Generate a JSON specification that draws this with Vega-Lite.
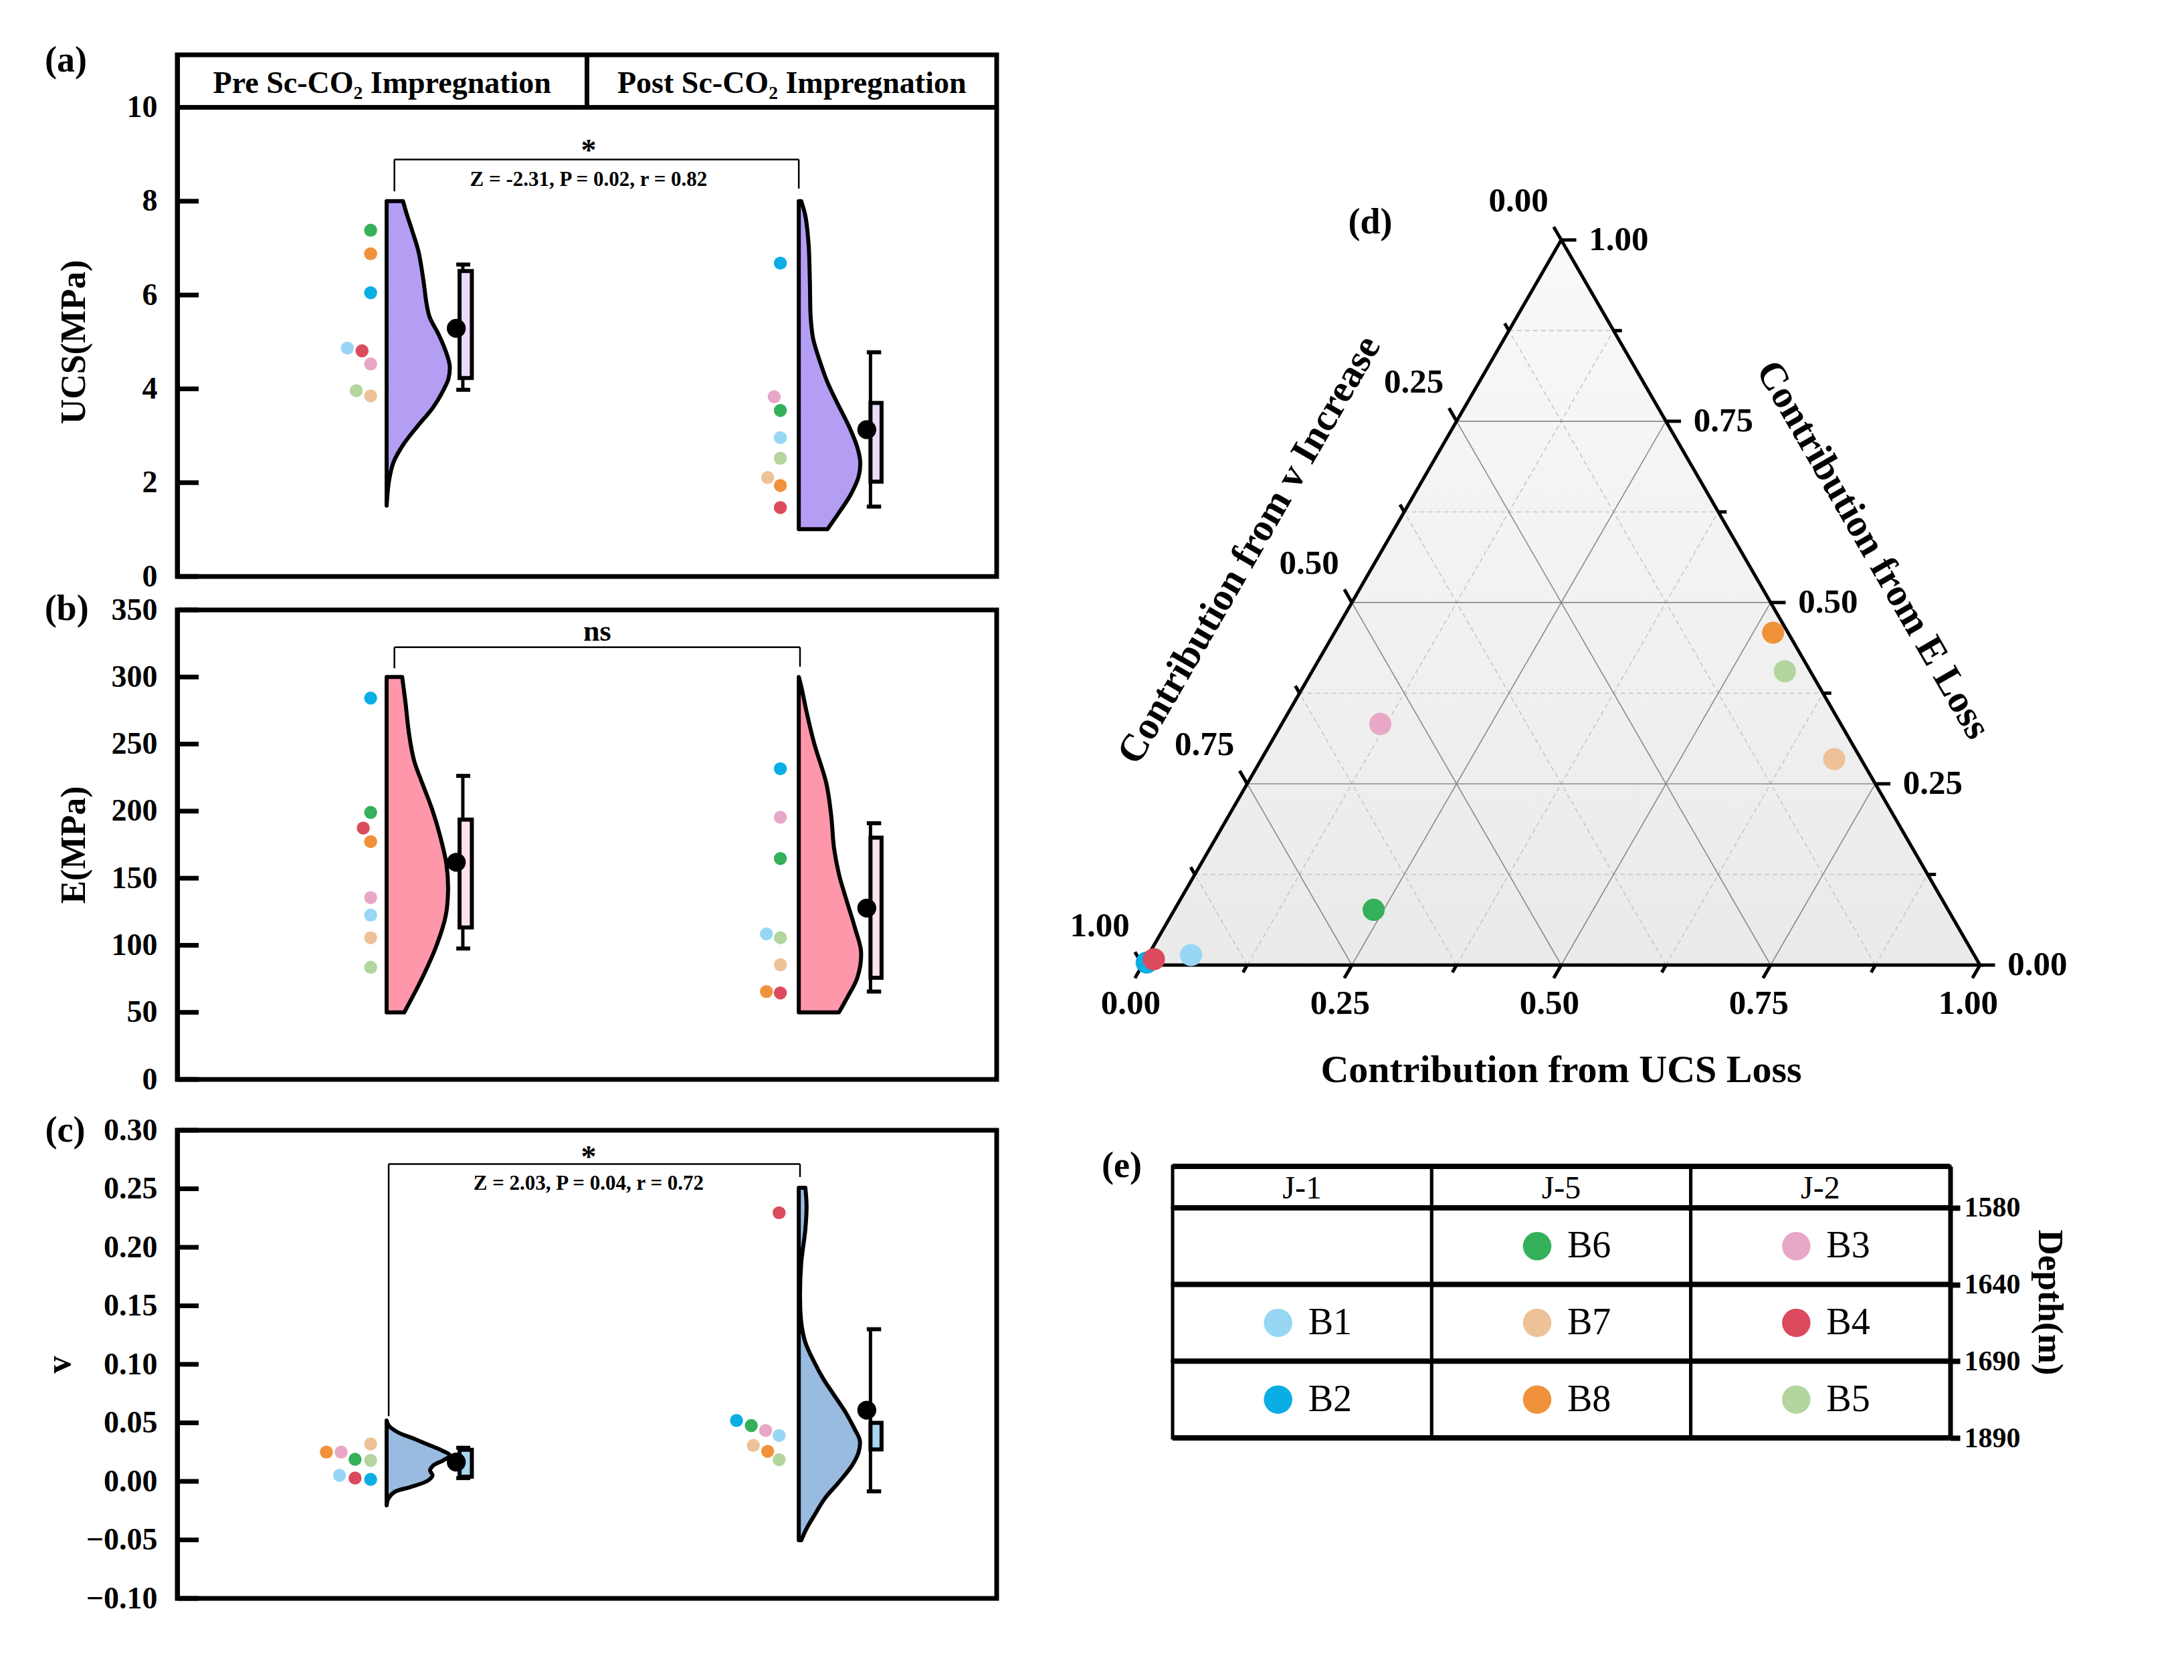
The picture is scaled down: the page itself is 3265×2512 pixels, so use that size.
{
  "$schema": "https://vega.github.io/schema/vega-lite/v6.json",
  "background": "white",
  "padding": {"left": 58, "top": 60, "right": 10, "bottom": 10},
  "config": {
    "font": "Liberation Serif",
    "view": {"stroke": "black", "strokeWidth": 7},
    "axis": {"labelFont": "Liberation Serif", "titleFont": "Liberation Serif", "labelColor": "black", "titleColor": "black", "domainColor": "black", "tickColor": "black", "grid": false, "labelFontWeight": "bold", "titleFontWeight": "bold", "labelFlush": false, "labelOverlap": false},
    "text": {"font": "Liberation Serif", "color": "black"},
    "title": {"font": "Liberation Serif", "color": "black"}
  },
  "datasets": {
    "ucs_v": [
      {"g": "Pre", "y": 8.00, "xl": 0.511, "xr": 0.551}, {"g": "Pre", "y": 7.70, "xl": 0.511, "xr": 0.561}, {"g": "Pre", "y": 7.38, "xl": 0.511, "xr": 0.573}, {"g": "Pre", "y": 6.92, "xl": 0.511, "xr": 0.589}, {"g": "Pre", "y": 6.30, "xl": 0.511, "xr": 0.601}, {"g": "Pre", "y": 5.84, "xl": 0.511, "xr": 0.608}, {"g": "Pre", "y": 5.53, "xl": 0.511, "xr": 0.616}, {"g": "Pre", "y": 5.14, "xl": 0.511, "xr": 0.639}, {"g": "Pre", "y": 4.76, "xl": 0.511, "xr": 0.657}, {"g": "Pre", "y": 4.49, "xl": 0.511, "xr": 0.665}, {"g": "Pre", "y": 4.22, "xl": 0.511, "xr": 0.662}, {"g": "Pre", "y": 3.98, "xl": 0.511, "xr": 0.650}, {"g": "Pre", "y": 3.60, "xl": 0.511, "xr": 0.624}, {"g": "Pre", "y": 3.21, "xl": 0.511, "xr": 0.587}, {"g": "Pre", "y": 2.83, "xl": 0.511, "xr": 0.553}, {"g": "Pre", "y": 2.44, "xl": 0.511, "xr": 0.528}, {"g": "Pre", "y": 2.05, "xl": 0.511, "xr": 0.517}, {"g": "Pre", "y": 1.51, "xl": 0.511, "xr": 0.511},
      {"g": "Post", "y": 8.00, "xl": 1.517, "xr": 1.523}, {"g": "Post", "y": 7.69, "xl": 1.517, "xr": 1.533}, {"g": "Post", "y": 7.07, "xl": 1.517, "xr": 1.541}, {"g": "Post", "y": 6.30, "xl": 1.517, "xr": 1.544}, {"g": "Post", "y": 5.53, "xl": 1.517, "xr": 1.546}, {"g": "Post", "y": 5.07, "xl": 1.517, "xr": 1.552}, {"g": "Post", "y": 4.60, "xl": 1.517, "xr": 1.568}, {"g": "Post", "y": 4.14, "xl": 1.517, "xr": 1.587}, {"g": "Post", "y": 3.68, "xl": 1.517, "xr": 1.612}, {"g": "Post", "y": 3.21, "xl": 1.517, "xr": 1.639}, {"g": "Post", "y": 2.75, "xl": 1.517, "xr": 1.660}, {"g": "Post", "y": 2.44, "xl": 1.517, "xr": 1.667}, {"g": "Post", "y": 2.13, "xl": 1.517, "xr": 1.663}, {"g": "Post", "y": 1.75, "xl": 1.517, "xr": 1.644}, {"g": "Post", "y": 1.36, "xl": 1.517, "xr": 1.615}, {"g": "Post", "y": 1.01, "xl": 1.517, "xr": 1.587}
    ],
    "e_v": [
      {"g": "Pre", "y": 300, "xl": 0.511, "xr": 0.549}, {"g": "Pre", "y": 281, "xl": 0.511, "xr": 0.557}, {"g": "Pre", "y": 257, "xl": 0.511, "xr": 0.566}, {"g": "Pre", "y": 237.7, "xl": 0.511, "xr": 0.578}, {"g": "Pre", "y": 220.8, "xl": 0.511, "xr": 0.598}, {"g": "Pre", "y": 201.4, "xl": 0.511, "xr": 0.622}, {"g": "Pre", "y": 182.1, "xl": 0.511, "xr": 0.641}, {"g": "Pre", "y": 160.4, "xl": 0.511, "xr": 0.657}, {"g": "Pre", "y": 141.1, "xl": 0.511, "xr": 0.661}, {"g": "Pre", "y": 121.7, "xl": 0.511, "xr": 0.655}, {"g": "Pre", "y": 100, "xl": 0.511, "xr": 0.633}, {"g": "Pre", "y": 75.8, "xl": 0.511, "xr": 0.598}, {"g": "Pre", "y": 50, "xl": 0.511, "xr": 0.554},
      {"g": "Post", "y": 300, "xl": 1.517, "xr": 1.517}, {"g": "Post", "y": 293, "xl": 1.517, "xr": 1.523}, {"g": "Post", "y": 274, "xl": 1.517, "xr": 1.536}, {"g": "Post", "y": 250, "xl": 1.517, "xr": 1.555}, {"g": "Post", "y": 221, "xl": 1.517, "xr": 1.584}, {"g": "Post", "y": 197, "xl": 1.517, "xr": 1.596}, {"g": "Post", "y": 172.5, "xl": 1.517, "xr": 1.603}, {"g": "Post", "y": 153, "xl": 1.517, "xr": 1.615}, {"g": "Post", "y": 136, "xl": 1.517, "xr": 1.631}, {"g": "Post", "y": 112, "xl": 1.517, "xr": 1.655}, {"g": "Post", "y": 95, "xl": 1.517, "xr": 1.669}, {"g": "Post", "y": 76, "xl": 1.517, "xr": 1.660}, {"g": "Post", "y": 61.4, "xl": 1.517, "xr": 1.636}, {"g": "Post", "y": 50, "xl": 1.517, "xr": 1.615}
    ],
    "nu_v": [
      {"g": "Pre", "y": 0.052, "xl": 0.511, "xr": 0.511}, {"g": "Pre", "y": 0.0477, "xl": 0.511, "xr": 0.516}, {"g": "Pre", "y": 0.042, "xl": 0.511, "xr": 0.538}, {"g": "Pre", "y": 0.0364, "xl": 0.511, "xr": 0.578}, {"g": "Pre", "y": 0.0307, "xl": 0.511, "xr": 0.617}, {"g": "Pre", "y": 0.0264, "xl": 0.511, "xr": 0.646}, {"g": "Pre", "y": 0.0222, "xl": 0.511, "xr": 0.665}, {"g": "Pre", "y": 0.0179, "xl": 0.511, "xr": 0.649}, {"g": "Pre", "y": 0.0136, "xl": 0.511, "xr": 0.625}, {"g": "Pre", "y": 0.0094, "xl": 0.511, "xr": 0.617}, {"g": "Pre", "y": 0.0051, "xl": 0.511, "xr": 0.623}, {"g": "Pre", "y": 0.0005, "xl": 0.511, "xr": 0.611}, {"g": "Pre", "y": -0.0048, "xl": 0.511, "xr": 0.570}, {"g": "Pre", "y": -0.0091, "xl": 0.511, "xr": 0.530}, {"g": "Pre", "y": -0.0148, "xl": 0.511, "xr": 0.515}, {"g": "Pre", "y": -0.0205, "xl": 0.511, "xr": 0.511},
      {"g": "Post", "y": 0.2509, "xl": 1.517, "xr": 1.533}, {"g": "Post", "y": 0.2352, "xl": 1.517, "xr": 1.536}, {"g": "Post", "y": 0.2153, "xl": 1.517, "xr": 1.533}, {"g": "Post", "y": 0.1869, "xl": 1.517, "xr": 1.523}, {"g": "Post", "y": 0.1585, "xl": 1.517, "xr": 1.520}, {"g": "Post", "y": 0.1358, "xl": 1.517, "xr": 1.523}, {"g": "Post", "y": 0.1188, "xl": 1.517, "xr": 1.533}, {"g": "Post", "y": 0.1017, "xl": 1.517, "xr": 1.555}, {"g": "Post", "y": 0.0875, "xl": 1.517, "xr": 1.577}, {"g": "Post", "y": 0.0733, "xl": 1.517, "xr": 1.604}, {"g": "Post", "y": 0.0591, "xl": 1.517, "xr": 1.631}, {"g": "Post", "y": 0.0449, "xl": 1.517, "xr": 1.653}, {"g": "Post", "y": 0.0349, "xl": 1.517, "xr": 1.666}, {"g": "Post", "y": 0.0250, "xl": 1.517, "xr": 1.663}, {"g": "Post", "y": 0.0136, "xl": 1.517, "xr": 1.647}, {"g": "Post", "y": -0.0006, "xl": 1.517, "xr": 1.615}, {"g": "Post", "y": -0.0148, "xl": 1.517, "xr": 1.580}, {"g": "Post", "y": -0.0290, "xl": 1.517, "xr": 1.555}, {"g": "Post", "y": -0.0403, "xl": 1.517, "xr": 1.536}, {"g": "Post", "y": -0.0503, "xl": 1.517, "xr": 1.523}
    ],
    "ucs_p": [
      {"s": "B6", "g": "Pre", "x": 0.472, "v": 7.38}, {"s": "B8", "g": "Pre", "x": 0.472, "v": 6.88}, {"s": "B2", "g": "Pre", "x": 0.472, "v": 6.05}, {"s": "B1", "g": "Pre", "x": 0.415, "v": 4.87}, {"s": "B4", "g": "Pre", "x": 0.451, "v": 4.81}, {"s": "B3", "g": "Pre", "x": 0.472, "v": 4.53}, {"s": "B5", "g": "Pre", "x": 0.437, "v": 3.96}, {"s": "B7", "g": "Pre", "x": 0.472, "v": 3.85},
      {"s": "B2", "g": "Post", "x": 1.472, "v": 6.68}, {"s": "B3", "g": "Post", "x": 1.457, "v": 3.83}, {"s": "B6", "g": "Post", "x": 1.472, "v": 3.54}, {"s": "B1", "g": "Post", "x": 1.472, "v": 2.96}, {"s": "B5", "g": "Post", "x": 1.472, "v": 2.52}, {"s": "B7", "g": "Post", "x": 1.441, "v": 2.11}, {"s": "B8", "g": "Post", "x": 1.472, "v": 1.94}, {"s": "B4", "g": "Post", "x": 1.472, "v": 1.47}
    ],
    "e_p": [
      {"s": "B2", "g": "Pre", "x": 0.472, "v": 284.3}, {"s": "B6", "g": "Pre", "x": 0.472, "v": 199.0}, {"s": "B4", "g": "Pre", "x": 0.454, "v": 187.4}, {"s": "B8", "g": "Pre", "x": 0.472, "v": 177.3}, {"s": "B3", "g": "Pre", "x": 0.472, "v": 135.5}, {"s": "B1", "g": "Pre", "x": 0.472, "v": 122.5}, {"s": "B7", "g": "Pre", "x": 0.472, "v": 105.6}, {"s": "B5", "g": "Pre", "x": 0.472, "v": 83.6},
      {"s": "B2", "g": "Post", "x": 1.472, "v": 231.6}, {"s": "B3", "g": "Post", "x": 1.472, "v": 195.4}, {"s": "B6", "g": "Post", "x": 1.472, "v": 164.7}, {"s": "B1", "g": "Post", "x": 1.438, "v": 108.5}, {"s": "B5", "g": "Post", "x": 1.472, "v": 105.6}, {"s": "B7", "g": "Post", "x": 1.472, "v": 85.5}, {"s": "B8", "g": "Post", "x": 1.438, "v": 65.5}, {"s": "B4", "g": "Post", "x": 1.472, "v": 64.5}
    ],
    "nu_p": [
      {"s": "B8", "g": "Pre", "x": 0.364, "v": 0.025}, {"s": "B3", "g": "Pre", "x": 0.400, "v": 0.025}, {"s": "B7", "g": "Pre", "x": 0.472, "v": 0.032}, {"s": "B6", "g": "Pre", "x": 0.434, "v": 0.0188}, {"s": "B5", "g": "Pre", "x": 0.472, "v": 0.0179}, {"s": "B1", "g": "Pre", "x": 0.396, "v": 0.0051}, {"s": "B4", "g": "Pre", "x": 0.434, "v": 0.0028}, {"s": "B2", "g": "Pre", "x": 0.472, "v": 0.0017},
      {"s": "B4", "g": "Post", "x": 1.469, "v": 0.2295}, {"s": "B2", "g": "Post", "x": 1.365, "v": 0.052}, {"s": "B6", "g": "Post", "x": 1.401, "v": 0.0477}, {"s": "B3", "g": "Post", "x": 1.436, "v": 0.0435}, {"s": "B1", "g": "Post", "x": 1.469, "v": 0.0392}, {"s": "B7", "g": "Post", "x": 1.406, "v": 0.0307}, {"s": "B8", "g": "Post", "x": 1.441, "v": 0.0256}, {"s": "B5", "g": "Post", "x": 1.469, "v": 0.0185}
    ],
    "ucs_b": [
      {"g": "Pre", "lo": 3.98, "q1": 4.23, "q3": 6.51, "hi": 6.65, "mean": 5.29, "x0": 0.689, "x1": 0.719, "xw": 0.697, "xc0": 0.681, "xc1": 0.715, "xm": 0.681},
      {"g": "Post", "lo": 1.49, "q1": 2.02, "q3": 3.70, "hi": 4.78, "mean": 3.13, "x0": 1.692, "x1": 1.719, "xw": 1.692, "xc0": 1.683, "xc1": 1.718, "xm": 1.683}
    ],
    "e_b": [
      {"g": "Pre", "lo": 97.6, "q1": 113.3, "q3": 193.7, "hi": 226.3, "mean": 161.9, "x0": 0.689, "x1": 0.719, "xw": 0.697, "xc0": 0.681, "xc1": 0.715, "xm": 0.681},
      {"g": "Post", "lo": 65.5, "q1": 75.8, "q3": 180.2, "hi": 191.0, "mean": 127.7, "x0": 1.692, "x1": 1.719, "xw": 1.692, "xc0": 1.683, "xc1": 1.718, "xm": 1.683}
    ],
    "nu_b": [
      {"g": "Pre", "lo": 0.0028, "q1": 0.004, "q3": 0.027, "hi": 0.0287, "mean": 0.0165, "x0": 0.689, "x1": 0.719, "xw": 0.697, "xc0": 0.681, "xc1": 0.715, "xm": 0.681},
      {"g": "Post", "lo": -0.0085, "q1": 0.0273, "q3": 0.050, "hi": 0.130, "mean": 0.0608, "x0": 1.692, "x1": 1.719, "xw": 1.692, "xc0": 1.683, "xc1": 1.718, "xm": 1.683}
    ],
    "t_major": [
      {"x": 0.125, "y": 0.2165, "x2": 0.875, "y2": 0.2165}, {"x": 0.25, "y": 0.433, "x2": 0.75, "y2": 0.433}, {"x": 0.375, "y": 0.6495, "x2": 0.625, "y2": 0.6495},
      {"x": 0.25, "y": 0, "x2": 0.625, "y2": 0.6495}, {"x": 0.5, "y": 0, "x2": 0.75, "y2": 0.433}, {"x": 0.75, "y": 0, "x2": 0.875, "y2": 0.2165},
      {"x": 0.75, "y": 0, "x2": 0.375, "y2": 0.6495}, {"x": 0.5, "y": 0, "x2": 0.25, "y2": 0.433}, {"x": 0.25, "y": 0, "x2": 0.125, "y2": 0.2165}
    ],
    "t_minor": [
      {"x": 0.0625, "y": 0.10825, "x2": 0.9375, "y2": 0.10825}, {"x": 0.1875, "y": 0.32475, "x2": 0.8125, "y2": 0.32475}, {"x": 0.3125, "y": 0.54125, "x2": 0.6875, "y2": 0.54125}, {"x": 0.4375, "y": 0.75775, "x2": 0.5625, "y2": 0.75775},
      {"x": 0.125, "y": 0, "x2": 0.5625, "y2": 0.75775}, {"x": 0.375, "y": 0, "x2": 0.6875, "y2": 0.54125}, {"x": 0.625, "y": 0, "x2": 0.8125, "y2": 0.32475}, {"x": 0.875, "y": 0, "x2": 0.9375, "y2": 0.10825},
      {"x": 0.875, "y": 0, "x2": 0.4375, "y2": 0.75775}, {"x": 0.625, "y": 0, "x2": 0.3125, "y2": 0.54125}, {"x": 0.375, "y": 0, "x2": 0.1875, "y2": 0.32475}, {"x": 0.125, "y": 0, "x2": 0.0625, "y2": 0.10825}
    ],
    "t_ticks": [
      {"x": 1, "y": 0, "x2": 1.018, "y2": 0}, {"x": 0.9375, "y": 0.10825, "x2": 0.9475, "y2": 0.10825}, {"x": 0.875, "y": 0.2165, "x2": 0.893, "y2": 0.2165}, {"x": 0.8125, "y": 0.32475, "x2": 0.8225, "y2": 0.32475}, {"x": 0.75, "y": 0.433, "x2": 0.768, "y2": 0.433}, {"x": 0.6875, "y": 0.54125, "x2": 0.6975, "y2": 0.54125}, {"x": 0.625, "y": 0.6495, "x2": 0.643, "y2": 0.6495}, {"x": 0.5625, "y": 0.75775, "x2": 0.5725, "y2": 0.75775}, {"x": 0.5, "y": 0.866, "x2": 0.518, "y2": 0.866},
      {"x": 0, "y": 0, "x2": -0.009, "y2": -0.0156}, {"x": 0.125, "y": 0, "x2": 0.12, "y2": -0.0087}, {"x": 0.25, "y": 0, "x2": 0.241, "y2": -0.0156}, {"x": 0.375, "y": 0, "x2": 0.37, "y2": -0.0087}, {"x": 0.5, "y": 0, "x2": 0.491, "y2": -0.0156}, {"x": 0.625, "y": 0, "x2": 0.62, "y2": -0.0087}, {"x": 0.75, "y": 0, "x2": 0.741, "y2": -0.0156}, {"x": 0.875, "y": 0, "x2": 0.87, "y2": -0.0087}, {"x": 1, "y": 0, "x2": 0.991, "y2": -0.0156},
      {"x": 0.5, "y": 0.866, "x2": 0.491, "y2": 0.8816}, {"x": 0.4375, "y": 0.75775, "x2": 0.4325, "y2": 0.76645}, {"x": 0.375, "y": 0.6495, "x2": 0.366, "y2": 0.6651}, {"x": 0.3125, "y": 0.54125, "x2": 0.3075, "y2": 0.54995}, {"x": 0.25, "y": 0.433, "x2": 0.241, "y2": 0.4486}, {"x": 0.1875, "y": 0.32475, "x2": 0.1825, "y2": 0.33345}, {"x": 0.125, "y": 0.2165, "x2": 0.116, "y2": 0.2321}, {"x": 0.0625, "y": 0.10825, "x2": 0.0575, "y2": 0.11695}, {"x": 0, "y": 0, "x2": -0.009, "y2": 0.0156}
    ],
    "t_pts": [
      {"s": "B1", "ucs": 0.051, "e": 0.014, "v": 0.935, "x": 0.058, "y": 0.012},
      {"s": "B2", "ucs": 0.003, "e": 0.003, "v": 0.994, "x": 0.005, "y": 0.003},
      {"s": "B3", "ucs": 0.118, "e": 0.332, "v": 0.550, "x": 0.284, "y": 0.288},
      {"s": "B4", "ucs": 0.010, "e": 0.008, "v": 0.982, "x": 0.0136, "y": 0.007},
      {"s": "B5", "ucs": 0.564, "e": 0.405, "v": 0.031, "x": 0.767, "y": 0.351},
      {"s": "B6", "ucs": 0.238, "e": 0.077, "v": 0.685, "x": 0.276, "y": 0.066},
      {"s": "B7", "ucs": 0.684, "e": 0.284, "v": 0.032, "x": 0.826, "y": 0.246},
      {"s": "B8", "ucs": 0.524, "e": 0.458, "v": 0.018, "x": 0.753, "y": 0.397}
    ],
    "tbl_cells": [
      {"well": "J-1", "r0": -0.54, "r1": 0}, {"well": "J-5", "r0": -0.54, "r1": 0}, {"well": "J-2", "r0": -0.54, "r1": 0},
      {"well": "J-1", "r0": 0, "r1": 1}, {"well": "J-5", "r0": 0, "r1": 1}, {"well": "J-2", "r0": 0, "r1": 1},
      {"well": "J-1", "r0": 1, "r1": 2}, {"well": "J-5", "r0": 1, "r1": 2}, {"well": "J-2", "r0": 1, "r1": 2},
      {"well": "J-1", "r0": 2, "r1": 3}, {"well": "J-5", "r0": 2, "r1": 3}, {"well": "J-2", "r0": 2, "r1": 3}
    ],
    "tbl_samples": [
      {"s": "B6", "well": "J-5", "depth": "1580–1640", "rowc": 0.5}, {"s": "B3", "well": "J-2", "depth": "1580–1640", "rowc": 0.5},
      {"s": "B1", "well": "J-1", "depth": "1640–1690", "rowc": 1.5}, {"s": "B7", "well": "J-5", "depth": "1640–1690", "rowc": 1.5}, {"s": "B4", "well": "J-2", "depth": "1640–1690", "rowc": 1.5},
      {"s": "B2", "well": "J-1", "depth": "1690–1890", "rowc": 2.5}, {"s": "B8", "well": "J-5", "depth": "1690–1890", "rowc": 2.5}, {"s": "B5", "well": "J-2", "depth": "1690–1890", "rowc": 2.5}
    ]
  },
  "spacing": 102,
  "hconcat": [
    {
      "spacing": 19,
      "vconcat": [
        {
          "spacing": 50,
          "bounds": "flush",
          "vconcat": [
            {
              "width": 1225, "height": 780,
              "layer": [
                {"data": {"values": [{"x": 0, "x2": 2, "y": 10, "y2": 10}, {"x": 1, "x2": 1, "y": 10, "y2": 11.12}]},
                 "mark": {"type": "rule", "color": "black", "strokeWidth": 7},
                 "encoding": {"x": {"field": "x", "type": "quantitative", "scale": {"domain": [0, 2], "nice": false, "zero": false}, "axis": null}, "x2": {"field": "x2"},
                   "y": {"field": "y", "type": "quantitative", "scale": {"domain": [0, 11.12], "nice": false, "zero": false},
                     "axis": {"title": "UCS(MPa)", "values": [0, 2, 4, 6, 8, 10], "format": "d", "tickSize": -32, "tickOpacity": 0, "tickWidth": 7, "domainWidth": 7, "labelFontSize": 46, "labelPadding": 62, "titleFontSize": 52, "titleX": -155, "titleY": 429, "titleBaseline": "middle"}},
                   "y2": {"field": "y2"}}},
                {"data": {"values": [{"y": 0}, {"y": 2}, {"y": 4}, {"y": 6}, {"y": 8}, {"y": 10}]},
                 "mark": {"type": "rule", "color": "black", "strokeWidth": 7},
                 "encoding": {"x": {"datum": 0, "type": "quantitative", "scale": {"domain": [0, 2], "nice": false, "zero": false}, "axis": null}, "x2": {"datum": 0.0522}, "y": {"field": "y", "type": "quantitative", "scale": {"domain": [0, 11.12], "nice": false, "zero": false}}}},
                {"data": {"values": [{"x": 0.5, "y": 10.314, "t": "Pre Sc-CO₂ Impregnation"}, {"x": 1.5, "y": 10.314, "t": "Post Sc-CO₂ Impregnation"}]},
                 "mark": {"type": "text", "fontSize": 46, "fontWeight": "bold", "baseline": "alphabetic", "align": "center"},
                 "encoding": {"x": {"field": "x", "type": "quantitative", "scale": {"domain": [0, 2], "nice": false, "zero": false}, "axis": null}, "y": {"field": "y", "type": "quantitative", "scale": {"domain": [0, 11.12], "nice": false, "zero": false}}, "text": {"field": "t"}}},
                {"data": {"values": [{"x": 0.530, "y": 8.89, "x2": 1.517, "y2": 8.89}, {"x": 0.530, "y": 8.21, "x2": 0.530, "y2": 8.89}, {"x": 1.517, "y": 8.27, "x2": 1.517, "y2": 8.89}]},
                 "mark": {"type": "rule", "color": "black", "strokeWidth": 2.5},
                 "encoding": {"x": {"field": "x", "type": "quantitative", "scale": {"domain": [0, 2], "nice": false, "zero": false}, "axis": null}, "x2": {"field": "x2"}, "y": {"field": "y", "type": "quantitative", "scale": {"domain": [0, 11.12], "nice": false, "zero": false}}, "y2": {"field": "y2"}}},
                {"data": {"name": "ucs_v"},
                 "mark": {"type": "area", "orient": "horizontal", "interpolate": "catmull-rom", "fill": "#B49EF4", "fillOpacity": 1, "stroke": "black", "strokeWidth": 6, "strokeJoin": "round"},
                 "encoding": {"detail": {"field": "g"}, "y": {"field": "y", "type": "quantitative", "scale": {"domain": [0, 11.12], "nice": false, "zero": false}}, "x": {"field": "xr", "type": "quantitative", "stack": null, "scale": {"domain": [0, 2], "nice": false, "zero": false}, "axis": null}, "x2": {"field": "xl"}}},
                {"data": {"name": "ucs_p"},
                 "mark": {"type": "circle", "size": 380, "opacity": 1},
                 "encoding": {"x": {"field": "x", "type": "quantitative", "scale": {"domain": [0, 2], "nice": false, "zero": false}, "axis": null}, "y": {"field": "v", "type": "quantitative", "scale": {"domain": [0, 11.12], "nice": false, "zero": false}},
                   "color": {"field": "s", "type": "nominal", "scale": {"domain": ["B1", "B2", "B3", "B4", "B5", "B6", "B7", "B8"], "range": ["#97D7F4", "#0BAEE4", "#E8A7C6", "#DB4A5D", "#B2D69E", "#34B15A", "#EEC298", "#F0923B"]}, "legend": null}}},
                {"data": {"name": "ucs_b"}, "mark": {"type": "rule", "color": "black", "strokeWidth": 5},
                 "encoding": {"x": {"field": "xw", "type": "quantitative", "scale": {"domain": [0, 2], "nice": false, "zero": false}, "axis": null}, "y": {"field": "lo", "type": "quantitative", "scale": {"domain": [0, 11.12], "nice": false, "zero": false}}, "y2": {"field": "hi"}}},
                {"data": {"name": "ucs_b"}, "mark": {"type": "rect", "fill": "#EADCF9", "stroke": "black", "strokeWidth": 6},
                 "encoding": {"x": {"field": "x0", "type": "quantitative", "scale": {"domain": [0, 2], "nice": false, "zero": false}, "axis": null}, "x2": {"field": "x1"}, "y": {"field": "q1", "type": "quantitative", "scale": {"domain": [0, 11.12], "nice": false, "zero": false}}, "y2": {"field": "q3"}}},
                {"data": {"name": "ucs_b"}, "mark": {"type": "rule", "color": "black", "strokeWidth": 6},
                 "encoding": {"x": {"field": "xc0", "type": "quantitative", "scale": {"domain": [0, 2], "nice": false, "zero": false}, "axis": null}, "x2": {"field": "xc1"}, "y": {"field": "lo", "type": "quantitative", "scale": {"domain": [0, 11.12], "nice": false, "zero": false}}}},
                {"data": {"name": "ucs_b"}, "mark": {"type": "rule", "color": "black", "strokeWidth": 6},
                 "encoding": {"x": {"field": "xc0", "type": "quantitative", "scale": {"domain": [0, 2], "nice": false, "zero": false}, "axis": null}, "x2": {"field": "xc1"}, "y": {"field": "hi", "type": "quantitative", "scale": {"domain": [0, 11.12], "nice": false, "zero": false}}}},
                {"data": {"name": "ucs_b"}, "mark": {"type": "circle", "size": 800, "color": "black", "opacity": 1},
                 "encoding": {"x": {"field": "xm", "type": "quantitative", "scale": {"domain": [0, 2], "nice": false, "zero": false}, "axis": null}, "y": {"field": "mean", "type": "quantitative", "scale": {"domain": [0, 11.12], "nice": false, "zero": false}}}},
                {"data": {"values": [{"x": 1.004, "y": 8.87, "t": "*"}]},
                 "mark": {"type": "text", "fontSize": 46, "fontWeight": "bold", "baseline": "alphabetic", "align": "center"},
                 "encoding": {"x": {"field": "x", "type": "quantitative", "scale": {"domain": [0, 2], "nice": false, "zero": false}, "axis": null}, "y": {"field": "y", "type": "quantitative", "scale": {"domain": [0, 11.12], "nice": false, "zero": false}}, "text": {"field": "t"}}},
                {"data": {"values": [{"x": 1.004, "y": 8.32, "t": "Z = -2.31, P = 0.02, r = 0.82"}]},
                 "mark": {"type": "text", "fontSize": 31, "fontWeight": "bold", "baseline": "alphabetic", "align": "center"},
                 "encoding": {"x": {"field": "x", "type": "quantitative", "scale": {"domain": [0, 2], "nice": false, "zero": false}, "axis": null}, "y": {"field": "y", "type": "quantitative", "scale": {"domain": [0, 11.12], "nice": false, "zero": false}}, "text": {"field": "t"}}},
                {"data": {"values": [{"x": -0.272, "y": 10.757, "t": "(a)"}]},
                 "mark": {"type": "text", "fontSize": 54, "fontWeight": "bold", "baseline": "alphabetic", "align": "center"},
                 "encoding": {"x": {"field": "x", "type": "quantitative", "scale": {"domain": [0, 2], "nice": false, "zero": false}, "axis": null}, "y": {"field": "y", "type": "quantitative", "scale": {"domain": [0, 11.12], "nice": false, "zero": false}}, "text": {"field": "t"}}}
              ]
            },
            {
              "width": 1225, "height": 702,
              "layer": [
                {"data": {"values": [{"x": 0.530, "y": 322.2, "x2": 1.520, "y2": 322.2}, {"x": 0.530, "y": 306.5, "x2": 0.530, "y2": 322.2}, {"x": 1.520, "y": 307.7, "x2": 1.520, "y2": 322.2}]},
                 "mark": {"type": "rule", "color": "black", "strokeWidth": 2.5},
                 "encoding": {"x": {"field": "x", "type": "quantitative", "scale": {"domain": [0, 2], "nice": false, "zero": false}, "axis": null}, "x2": {"field": "x2"},
                   "y": {"field": "y", "type": "quantitative", "scale": {"domain": [0, 350], "nice": false, "zero": false},
                     "axis": {"title": "E(MPa)", "values": [0, 50, 100, 150, 200, 250, 300, 350], "format": "d", "tickSize": -32, "tickOpacity": 0, "tickWidth": 7, "domainWidth": 7, "labelFontSize": 46, "labelPadding": 62, "titleFontSize": 52, "titleX": -155, "titleBaseline": "middle"}},
                   "y2": {"field": "y2"}}},
                {"data": {"values": [{"y": 0}, {"y": 50}, {"y": 100}, {"y": 150}, {"y": 200}, {"y": 250}, {"y": 300}, {"y": 350}]},
                 "mark": {"type": "rule", "color": "black", "strokeWidth": 7},
                 "encoding": {"x": {"datum": 0, "type": "quantitative", "scale": {"domain": [0, 2], "nice": false, "zero": false}, "axis": null}, "x2": {"datum": 0.0522}, "y": {"field": "y", "type": "quantitative", "scale": {"domain": [0, 350], "nice": false, "zero": false}}}},
                {"data": {"name": "e_v"},
                 "mark": {"type": "area", "orient": "horizontal", "interpolate": "catmull-rom", "fill": "#FF97AB", "fillOpacity": 1, "stroke": "black", "strokeWidth": 6, "strokeJoin": "round"},
                 "encoding": {"detail": {"field": "g"}, "y": {"field": "y", "type": "quantitative", "scale": {"domain": [0, 350], "nice": false, "zero": false}}, "x": {"field": "xr", "type": "quantitative", "stack": null, "scale": {"domain": [0, 2], "nice": false, "zero": false}, "axis": null}, "x2": {"field": "xl"}}},
                {"data": {"name": "e_p"},
                 "mark": {"type": "circle", "size": 380, "opacity": 1},
                 "encoding": {"x": {"field": "x", "type": "quantitative", "scale": {"domain": [0, 2], "nice": false, "zero": false}, "axis": null}, "y": {"field": "v", "type": "quantitative", "scale": {"domain": [0, 350], "nice": false, "zero": false}},
                   "color": {"field": "s", "type": "nominal", "scale": {"domain": ["B1", "B2", "B3", "B4", "B5", "B6", "B7", "B8"], "range": ["#97D7F4", "#0BAEE4", "#E8A7C6", "#DB4A5D", "#B2D69E", "#34B15A", "#EEC298", "#F0923B"]}, "legend": null}}},
                {"data": {"name": "e_b"}, "mark": {"type": "rule", "color": "black", "strokeWidth": 5},
                 "encoding": {"x": {"field": "xw", "type": "quantitative", "scale": {"domain": [0, 2], "nice": false, "zero": false}, "axis": null}, "y": {"field": "lo", "type": "quantitative", "scale": {"domain": [0, 350], "nice": false, "zero": false}}, "y2": {"field": "hi"}}},
                {"data": {"name": "e_b"}, "mark": {"type": "rect", "fill": "#FDE3E8", "stroke": "black", "strokeWidth": 6},
                 "encoding": {"x": {"field": "x0", "type": "quantitative", "scale": {"domain": [0, 2], "nice": false, "zero": false}, "axis": null}, "x2": {"field": "x1"}, "y": {"field": "q1", "type": "quantitative", "scale": {"domain": [0, 350], "nice": false, "zero": false}}, "y2": {"field": "q3"}}},
                {"data": {"name": "e_b"}, "mark": {"type": "rule", "color": "black", "strokeWidth": 6},
                 "encoding": {"x": {"field": "xc0", "type": "quantitative", "scale": {"domain": [0, 2], "nice": false, "zero": false}, "axis": null}, "x2": {"field": "xc1"}, "y": {"field": "lo", "type": "quantitative", "scale": {"domain": [0, 350], "nice": false, "zero": false}}}},
                {"data": {"name": "e_b"}, "mark": {"type": "rule", "color": "black", "strokeWidth": 6},
                 "encoding": {"x": {"field": "xc0", "type": "quantitative", "scale": {"domain": [0, 2], "nice": false, "zero": false}, "axis": null}, "x2": {"field": "xc1"}, "y": {"field": "hi", "type": "quantitative", "scale": {"domain": [0, 350], "nice": false, "zero": false}}}},
                {"data": {"name": "e_b"}, "mark": {"type": "circle", "size": 800, "color": "black", "opacity": 1},
                 "encoding": {"x": {"field": "xm", "type": "quantitative", "scale": {"domain": [0, 2], "nice": false, "zero": false}, "axis": null}, "y": {"field": "mean", "type": "quantitative", "scale": {"domain": [0, 350], "nice": false, "zero": false}}}},
                {"data": {"values": [{"x": 1.025, "y": 327.0, "t": "ns"}]},
                 "mark": {"type": "text", "fontSize": 44, "fontWeight": "bold", "baseline": "alphabetic", "align": "center"},
                 "encoding": {"x": {"field": "x", "type": "quantitative", "scale": {"domain": [0, 2], "nice": false, "zero": false}, "axis": null}, "y": {"field": "y", "type": "quantitative", "scale": {"domain": [0, 350], "nice": false, "zero": false}}, "text": {"field": "t"}}},
                {"data": {"values": [{"x": -0.27, "y": 342.4, "t": "(b)"}]},
                 "mark": {"type": "text", "fontSize": 54, "fontWeight": "bold", "baseline": "alphabetic", "align": "center"},
                 "encoding": {"x": {"field": "x", "type": "quantitative", "scale": {"domain": [0, 2], "nice": false, "zero": false}, "axis": null}, "y": {"field": "y", "type": "quantitative", "scale": {"domain": [0, 350], "nice": false, "zero": false}}, "text": {"field": "t"}}}
              ]
            }
          ]
        },
        {
          "width": 1225, "height": 700,
          "layer": [
            {"data": {"values": [{"x": 0.516, "y": 0.2711, "x2": 1.520, "y2": 0.2711}, {"x": 0.516, "y": 0.0557, "x2": 0.516, "y2": 0.2711}, {"x": 1.520, "y": 0.260, "x2": 1.520, "y2": 0.2711}]},
             "mark": {"type": "rule", "color": "black", "strokeWidth": 2.5},
             "encoding": {"x": {"field": "x", "type": "quantitative", "scale": {"domain": [0, 2], "nice": false, "zero": false}, "axis": null}, "x2": {"field": "x2"},
               "y": {"field": "y", "type": "quantitative", "scale": {"domain": [-0.1, 0.3], "nice": false, "zero": false},
                 "axis": {"title": "v", "values": [-0.1, -0.05, 0, 0.05, 0.1, 0.15, 0.2, 0.25, 0.3], "format": ".2f", "tickSize": -32, "tickOpacity": 0, "tickWidth": 7, "domainWidth": 7, "labelFontSize": 46, "labelPadding": 62, "titleFontSize": 52, "titleX": -177, "titleBaseline": "middle"}},
               "y2": {"field": "y2"}}},
            {"data": {"values": [{"y": -0.1}, {"y": -0.05}, {"y": 0}, {"y": 0.05}, {"y": 0.1}, {"y": 0.15}, {"y": 0.2}, {"y": 0.25}, {"y": 0.3}]},
             "mark": {"type": "rule", "color": "black", "strokeWidth": 7},
             "encoding": {"x": {"datum": 0, "type": "quantitative", "scale": {"domain": [0, 2], "nice": false, "zero": false}, "axis": null}, "x2": {"datum": 0.0522}, "y": {"field": "y", "type": "quantitative", "scale": {"domain": [-0.1, 0.3], "nice": false, "zero": false}}}},
            {"data": {"name": "nu_v"},
             "mark": {"type": "area", "orient": "horizontal", "interpolate": "catmull-rom", "fill": "#99BBE0", "fillOpacity": 1, "stroke": "black", "strokeWidth": 6, "strokeJoin": "round"},
             "encoding": {"detail": {"field": "g"}, "y": {"field": "y", "type": "quantitative", "scale": {"domain": [-0.1, 0.3], "nice": false, "zero": false}}, "x": {"field": "xr", "type": "quantitative", "stack": null, "scale": {"domain": [0, 2], "nice": false, "zero": false}, "axis": null}, "x2": {"field": "xl"}}},
            {"data": {"name": "nu_p"},
             "mark": {"type": "circle", "size": 380, "opacity": 1},
             "encoding": {"x": {"field": "x", "type": "quantitative", "scale": {"domain": [0, 2], "nice": false, "zero": false}, "axis": null}, "y": {"field": "v", "type": "quantitative", "scale": {"domain": [-0.1, 0.3], "nice": false, "zero": false}},
               "color": {"field": "s", "type": "nominal", "scale": {"domain": ["B1", "B2", "B3", "B4", "B5", "B6", "B7", "B8"], "range": ["#97D7F4", "#0BAEE4", "#E8A7C6", "#DB4A5D", "#B2D69E", "#34B15A", "#EEC298", "#F0923B"]}, "legend": null}}},
            {"data": {"name": "nu_b"}, "mark": {"type": "rule", "color": "black", "strokeWidth": 5},
             "encoding": {"x": {"field": "xw", "type": "quantitative", "scale": {"domain": [0, 2], "nice": false, "zero": false}, "axis": null}, "y": {"field": "lo", "type": "quantitative", "scale": {"domain": [-0.1, 0.3], "nice": false, "zero": false}}, "y2": {"field": "hi"}}},
            {"data": {"name": "nu_b"}, "mark": {"type": "rect", "fill": "#A8D5F0", "stroke": "black", "strokeWidth": 6},
             "encoding": {"x": {"field": "x0", "type": "quantitative", "scale": {"domain": [0, 2], "nice": false, "zero": false}, "axis": null}, "x2": {"field": "x1"}, "y": {"field": "q1", "type": "quantitative", "scale": {"domain": [-0.1, 0.3], "nice": false, "zero": false}}, "y2": {"field": "q3"}}},
            {"data": {"name": "nu_b"}, "mark": {"type": "rule", "color": "black", "strokeWidth": 6},
             "encoding": {"x": {"field": "xc0", "type": "quantitative", "scale": {"domain": [0, 2], "nice": false, "zero": false}, "axis": null}, "x2": {"field": "xc1"}, "y": {"field": "lo", "type": "quantitative", "scale": {"domain": [-0.1, 0.3], "nice": false, "zero": false}}}},
            {"data": {"name": "nu_b"}, "mark": {"type": "rule", "color": "black", "strokeWidth": 6},
             "encoding": {"x": {"field": "xc0", "type": "quantitative", "scale": {"domain": [0, 2], "nice": false, "zero": false}, "axis": null}, "x2": {"field": "xc1"}, "y": {"field": "hi", "type": "quantitative", "scale": {"domain": [-0.1, 0.3], "nice": false, "zero": false}}}},
            {"data": {"name": "nu_b"}, "mark": {"type": "circle", "size": 800, "color": "black", "opacity": 1},
             "encoding": {"x": {"field": "xm", "type": "quantitative", "scale": {"domain": [0, 2], "nice": false, "zero": false}, "axis": null}, "y": {"field": "mean", "type": "quantitative", "scale": {"domain": [-0.1, 0.3], "nice": false, "zero": false}}}},
            {"data": {"values": [{"x": 1.004, "y": 0.2686, "t": "*"}]},
             "mark": {"type": "text", "fontSize": 46, "fontWeight": "bold", "baseline": "alphabetic", "align": "center"},
             "encoding": {"x": {"field": "x", "type": "quantitative", "scale": {"domain": [0, 2], "nice": false, "zero": false}, "axis": null}, "y": {"field": "y", "type": "quantitative", "scale": {"domain": [-0.1, 0.3], "nice": false, "zero": false}}, "text": {"field": "t"}}},
            {"data": {"values": [{"x": 1.004, "y": 0.249, "t": "Z = 2.03, P = 0.04, r = 0.72"}]},
             "mark": {"type": "text", "fontSize": 31, "fontWeight": "bold", "baseline": "alphabetic", "align": "center"},
             "encoding": {"x": {"field": "x", "type": "quantitative", "scale": {"domain": [0, 2], "nice": false, "zero": false}, "axis": null}, "y": {"field": "y", "type": "quantitative", "scale": {"domain": [-0.1, 0.3], "nice": false, "zero": false}}, "text": {"field": "t"}}},
            {"data": {"values": [{"x": -0.2735, "y": 0.2903, "t": "(c)"}]},
             "mark": {"type": "text", "fontSize": 54, "fontWeight": "bold", "baseline": "alphabetic", "align": "center"},
             "encoding": {"x": {"field": "x", "type": "quantitative", "scale": {"domain": [0, 2], "nice": false, "zero": false}, "axis": null}, "y": {"field": "y", "type": "quantitative", "scale": {"domain": [-0.1, 0.3], "nice": false, "zero": false}}, "text": {"field": "t"}}}
          ]
        }
      ]
    },
    {
      "spacing": 301,
      "bounds": "flush",
      "center": true,
      "vconcat": [
        {
          "width": 1252, "height": 1361,
          "view": {"stroke": null},
          "layer": [
            {"data": {"values": [{"x": 0, "y": 0}, {"x": 0.5, "y": 0.866}, {"x": 1, "y": 0}]},
             "mark": {"type": "area", "interpolate": "linear", "color": {"gradient": "linear", "x1": 0, "y1": 0, "x2": 0, "y2": 1, "stops": [{"offset": 0, "color": "#F9F9F9"}, {"offset": 1, "color": "#EAEAEA"}]}},
             "encoding": {"x": {"field": "x", "type": "quantitative", "scale": {"domain": [0, 1], "nice": false, "zero": false}, "axis": null}, "y": {"field": "y", "type": "quantitative", "stack": null, "scale": {"domain": [0, 1.0871], "nice": false, "zero": false}, "axis": null}, "y2": {"datum": 0}}},
            {"data": {"name": "t_minor"},
             "mark": {"type": "rule", "color": "#C4C4C4", "strokeWidth": 1.5, "strokeDash": [7, 5]},
             "encoding": {"x": {"field": "x", "type": "quantitative", "scale": {"domain": [0, 1], "nice": false, "zero": false}, "axis": null}, "x2": {"field": "x2"}, "y": {"field": "y", "type": "quantitative", "scale": {"domain": [0, 1.0871], "nice": false, "zero": false}, "axis": null}, "y2": {"field": "y2"}}},
            {"data": {"name": "t_major"},
             "mark": {"type": "rule", "color": "#8A8A8A", "strokeWidth": 1.6},
             "encoding": {"x": {"field": "x", "type": "quantitative", "scale": {"domain": [0, 1], "nice": false, "zero": false}, "axis": null}, "x2": {"field": "x2"}, "y": {"field": "y", "type": "quantitative", "scale": {"domain": [0, 1.0871], "nice": false, "zero": false}, "axis": null}, "y2": {"field": "y2"}}},
            {"data": {"values": [{"i": 0, "x": 0, "y": 0}, {"i": 1, "x": 1, "y": 0}, {"i": 2, "x": 0.5, "y": 0.866}, {"i": 3, "x": 0, "y": 0}]},
             "mark": {"type": "line", "color": "black", "strokeWidth": 5, "strokeJoin": "miter"},
             "encoding": {"order": {"field": "i", "type": "quantitative"}, "x": {"field": "x", "type": "quantitative", "scale": {"domain": [0, 1], "nice": false, "zero": false}, "axis": null}, "y": {"field": "y", "type": "quantitative", "scale": {"domain": [0, 1.0871], "nice": false, "zero": false}, "axis": null}}},
            {"data": {"name": "t_ticks"},
             "mark": {"type": "rule", "color": "black", "strokeWidth": 5},
             "encoding": {"x": {"field": "x", "type": "quantitative", "scale": {"domain": [0, 1], "nice": false, "zero": false}, "axis": null}, "x2": {"field": "x2"}, "y": {"field": "y", "type": "quantitative", "scale": {"domain": [0, 1.0871], "nice": false, "zero": false}, "axis": null}, "y2": {"field": "y2"}}},
            {"data": {"name": "t_pts"},
             "mark": {"type": "circle", "size": 1100, "opacity": 1},
             "encoding": {"x": {"field": "x", "type": "quantitative", "scale": {"domain": [0, 1], "nice": false, "zero": false}, "axis": null}, "y": {"field": "y", "type": "quantitative", "scale": {"domain": [0, 1.0871], "nice": false, "zero": false}, "axis": null},
               "color": {"field": "s", "type": "nominal", "scale": {"domain": ["B1", "B2", "B3", "B4", "B5", "B6", "B7", "B8"], "range": ["#97D7F4", "#0BAEE4", "#E8A7C6", "#DB4A5D", "#B2D69E", "#34B15A", "#EEC298", "#F0923B"]}, "legend": null}}},
            {"data": {"values": [{"x": 1.033, "y": 0, "t": "0.00"}, {"x": 0.908, "y": 0.2165, "t": "0.25"}, {"x": 0.783, "y": 0.433, "t": "0.50"}, {"x": 0.658, "y": 0.6495, "t": "0.75"}, {"x": 0.533, "y": 0.866, "t": "1.00"}]},
             "mark": {"type": "text", "fontSize": 51, "fontWeight": "bold", "baseline": "middle", "align": "left"},
             "encoding": {"x": {"field": "x", "type": "quantitative", "scale": {"domain": [0, 1], "nice": false, "zero": false}, "axis": null}, "y": {"field": "y", "type": "quantitative", "scale": {"domain": [0, 1.0871], "nice": false, "zero": false}, "axis": null}, "text": {"field": "t"}}},
            {"data": {"values": [{"x": -0.014, "y": -0.046, "t": "0.00"}, {"x": 0.236, "y": -0.046, "t": "0.25"}, {"x": 0.486, "y": -0.046, "t": "0.50"}, {"x": 0.736, "y": -0.046, "t": "0.75"}, {"x": 0.986, "y": -0.046, "t": "1.00"},
                                 {"x": 0.449, "y": 0.912, "t": "0.00"}, {"x": 0.324, "y": 0.6955, "t": "0.25"}, {"x": 0.199, "y": 0.479, "t": "0.50"}, {"x": 0.074, "y": 0.2625, "t": "0.75"}, {"x": -0.051, "y": 0.046, "t": "1.00"}]},
             "mark": {"type": "text", "fontSize": 51, "fontWeight": "bold", "baseline": "middle", "align": "center"},
             "encoding": {"x": {"field": "x", "type": "quantitative", "scale": {"domain": [0, 1], "nice": false, "zero": false}, "axis": null}, "y": {"field": "y", "type": "quantitative", "scale": {"domain": [0, 1.0871], "nice": false, "zero": false}, "axis": null}, "text": {"field": "t"}}},
            {"data": {"values": [{"x": 0.5, "y": -0.126, "t": "Contribution from UCS Loss"}]},
             "mark": {"type": "text", "fontSize": 58, "fontWeight": "bold", "baseline": "middle", "align": "center"},
             "encoding": {"x": {"field": "x", "type": "quantitative", "scale": {"domain": [0, 1], "nice": false, "zero": false}, "axis": null}, "y": {"field": "y", "type": "quantitative", "scale": {"domain": [0, 1.0871], "nice": false, "zero": false}, "axis": null}, "text": {"field": "t"}}},
            {"data": {"values": [{"x": 0.128, "y": 0.4955, "t": "Contribution from v Increase"}]},
             "mark": {"type": "text", "fontSize": 58, "fontWeight": "bold", "baseline": "middle", "align": "center", "angle": -60},
             "encoding": {"x": {"field": "x", "type": "quantitative", "scale": {"domain": [0, 1], "nice": false, "zero": false}, "axis": null}, "y": {"field": "y", "type": "quantitative", "scale": {"domain": [0, 1.0871], "nice": false, "zero": false}, "axis": null}, "text": {"field": "t"}}},
            {"data": {"values": [{"x": 0.872, "y": 0.4955, "t": "Contribution from E Loss"}]},
             "mark": {"type": "text", "fontSize": 58, "fontWeight": "bold", "baseline": "middle", "align": "center", "angle": 60},
             "encoding": {"x": {"field": "x", "type": "quantitative", "scale": {"domain": [0, 1], "nice": false, "zero": false}, "axis": null}, "y": {"field": "y", "type": "quantitative", "scale": {"domain": [0, 1.0871], "nice": false, "zero": false}, "axis": null}, "text": {"field": "t"}}},
            {"data": {"values": [{"x": 0.272, "y": 0.887, "t": "(d)"}]},
             "mark": {"type": "text", "fontSize": 54, "fontWeight": "bold", "baseline": "middle", "align": "center"},
             "encoding": {"x": {"field": "x", "type": "quantitative", "scale": {"domain": [0, 1], "nice": false, "zero": false}, "axis": null}, "y": {"field": "y", "type": "quantitative", "scale": {"domain": [0, 1.0871], "nice": false, "zero": false}, "axis": null}, "text": {"field": "t"}}}
          ]
        },
        {
          "width": 1162, "height": 406,
          "view": {"stroke": null},
          "title": {"text": "(e)", "anchor": "start", "frame": "group", "orient": "top", "offset": 0, "dx": -106, "dy": 74, "baseline": "alphabetic", "fontSize": 54, "fontWeight": "bold", "font": "Liberation Serif", "color": "black"},
          "layer": [
            {"data": {"name": "tbl_cells"},
             "mark": {"type": "rect", "fill": "white", "stroke": "black", "strokeWidth": 5},
             "encoding": {"x": {"field": "well", "type": "nominal", "scale": {"domain": ["J-1", "J-5", "J-2"], "paddingInner": 0, "paddingOuter": 0}, "axis": null},
               "y": {"field": "r0", "type": "quantitative", "scale": {"domain": [-0.54, 3], "reverse": true, "nice": false, "zero": false},
                 "axis": {"orient": "right", "values": [0, 1, 2, 3], "labelExpr": "datum.value == 0 ? '1580' : datum.value == 1 ? '1640' : datum.value == 2 ? '1690' : '1890'", "title": "Depth(m)", "titleAngle": 90, "titleFontSize": 53, "labelFontSize": 42, "tickSize": 15, "tickWidth": 8, "domainWidth": 8, "labelPadding": 6, "titlePadding": 16}},
               "y2": {"field": "r1"}}},
            {"data": {"values": [{"y": -0.54}, {"y": 0}, {"y": 1}, {"y": 2}, {"y": 3}]},
             "mark": {"type": "rule", "color": "black", "strokeWidth": 8},
             "encoding": {"y": {"field": "y", "type": "quantitative", "scale": {"domain": [-0.54, 3], "reverse": true, "nice": false, "zero": false}}}},
            {"data": {"values": [{"well": "J-1", "y": -0.245}, {"well": "J-5", "y": -0.245}, {"well": "J-2", "y": -0.245}]},
             "mark": {"type": "text", "fontSize": 48, "baseline": "middle", "align": "center"},
             "encoding": {"x": {"field": "well", "type": "nominal", "scale": {"domain": ["J-1", "J-5", "J-2"], "paddingInner": 0, "paddingOuter": 0}, "axis": null}, "y": {"field": "y", "type": "quantitative", "scale": {"domain": [-0.54, 3], "reverse": true, "nice": false, "zero": false}}, "text": {"field": "well"}}},
            {"data": {"name": "tbl_samples"},
             "mark": {"type": "circle", "size": 1810, "opacity": 1, "xOffset": -36},
             "encoding": {"x": {"field": "well", "type": "nominal", "scale": {"domain": ["J-1", "J-5", "J-2"], "paddingInner": 0, "paddingOuter": 0}, "axis": null}, "y": {"field": "rowc", "type": "quantitative", "scale": {"domain": [-0.54, 3], "reverse": true, "nice": false, "zero": false}},
               "color": {"field": "s", "type": "nominal", "scale": {"domain": ["B1", "B2", "B3", "B4", "B5", "B6", "B7", "B8"], "range": ["#97D7F4", "#0BAEE4", "#E8A7C6", "#DB4A5D", "#B2D69E", "#34B15A", "#EEC298", "#F0923B"]}, "legend": null}}},
            {"data": {"name": "tbl_samples"},
             "mark": {"type": "text", "fontSize": 56, "baseline": "middle", "align": "left", "dx": 9},
             "encoding": {"x": {"field": "well", "type": "nominal", "scale": {"domain": ["J-1", "J-5", "J-2"], "paddingInner": 0, "paddingOuter": 0}, "axis": null}, "y": {"field": "rowc", "type": "quantitative", "scale": {"domain": [-0.54, 3], "reverse": true, "nice": false, "zero": false}}, "text": {"field": "s"}}}
          ]
        }
      ]
    }
  ]
}
